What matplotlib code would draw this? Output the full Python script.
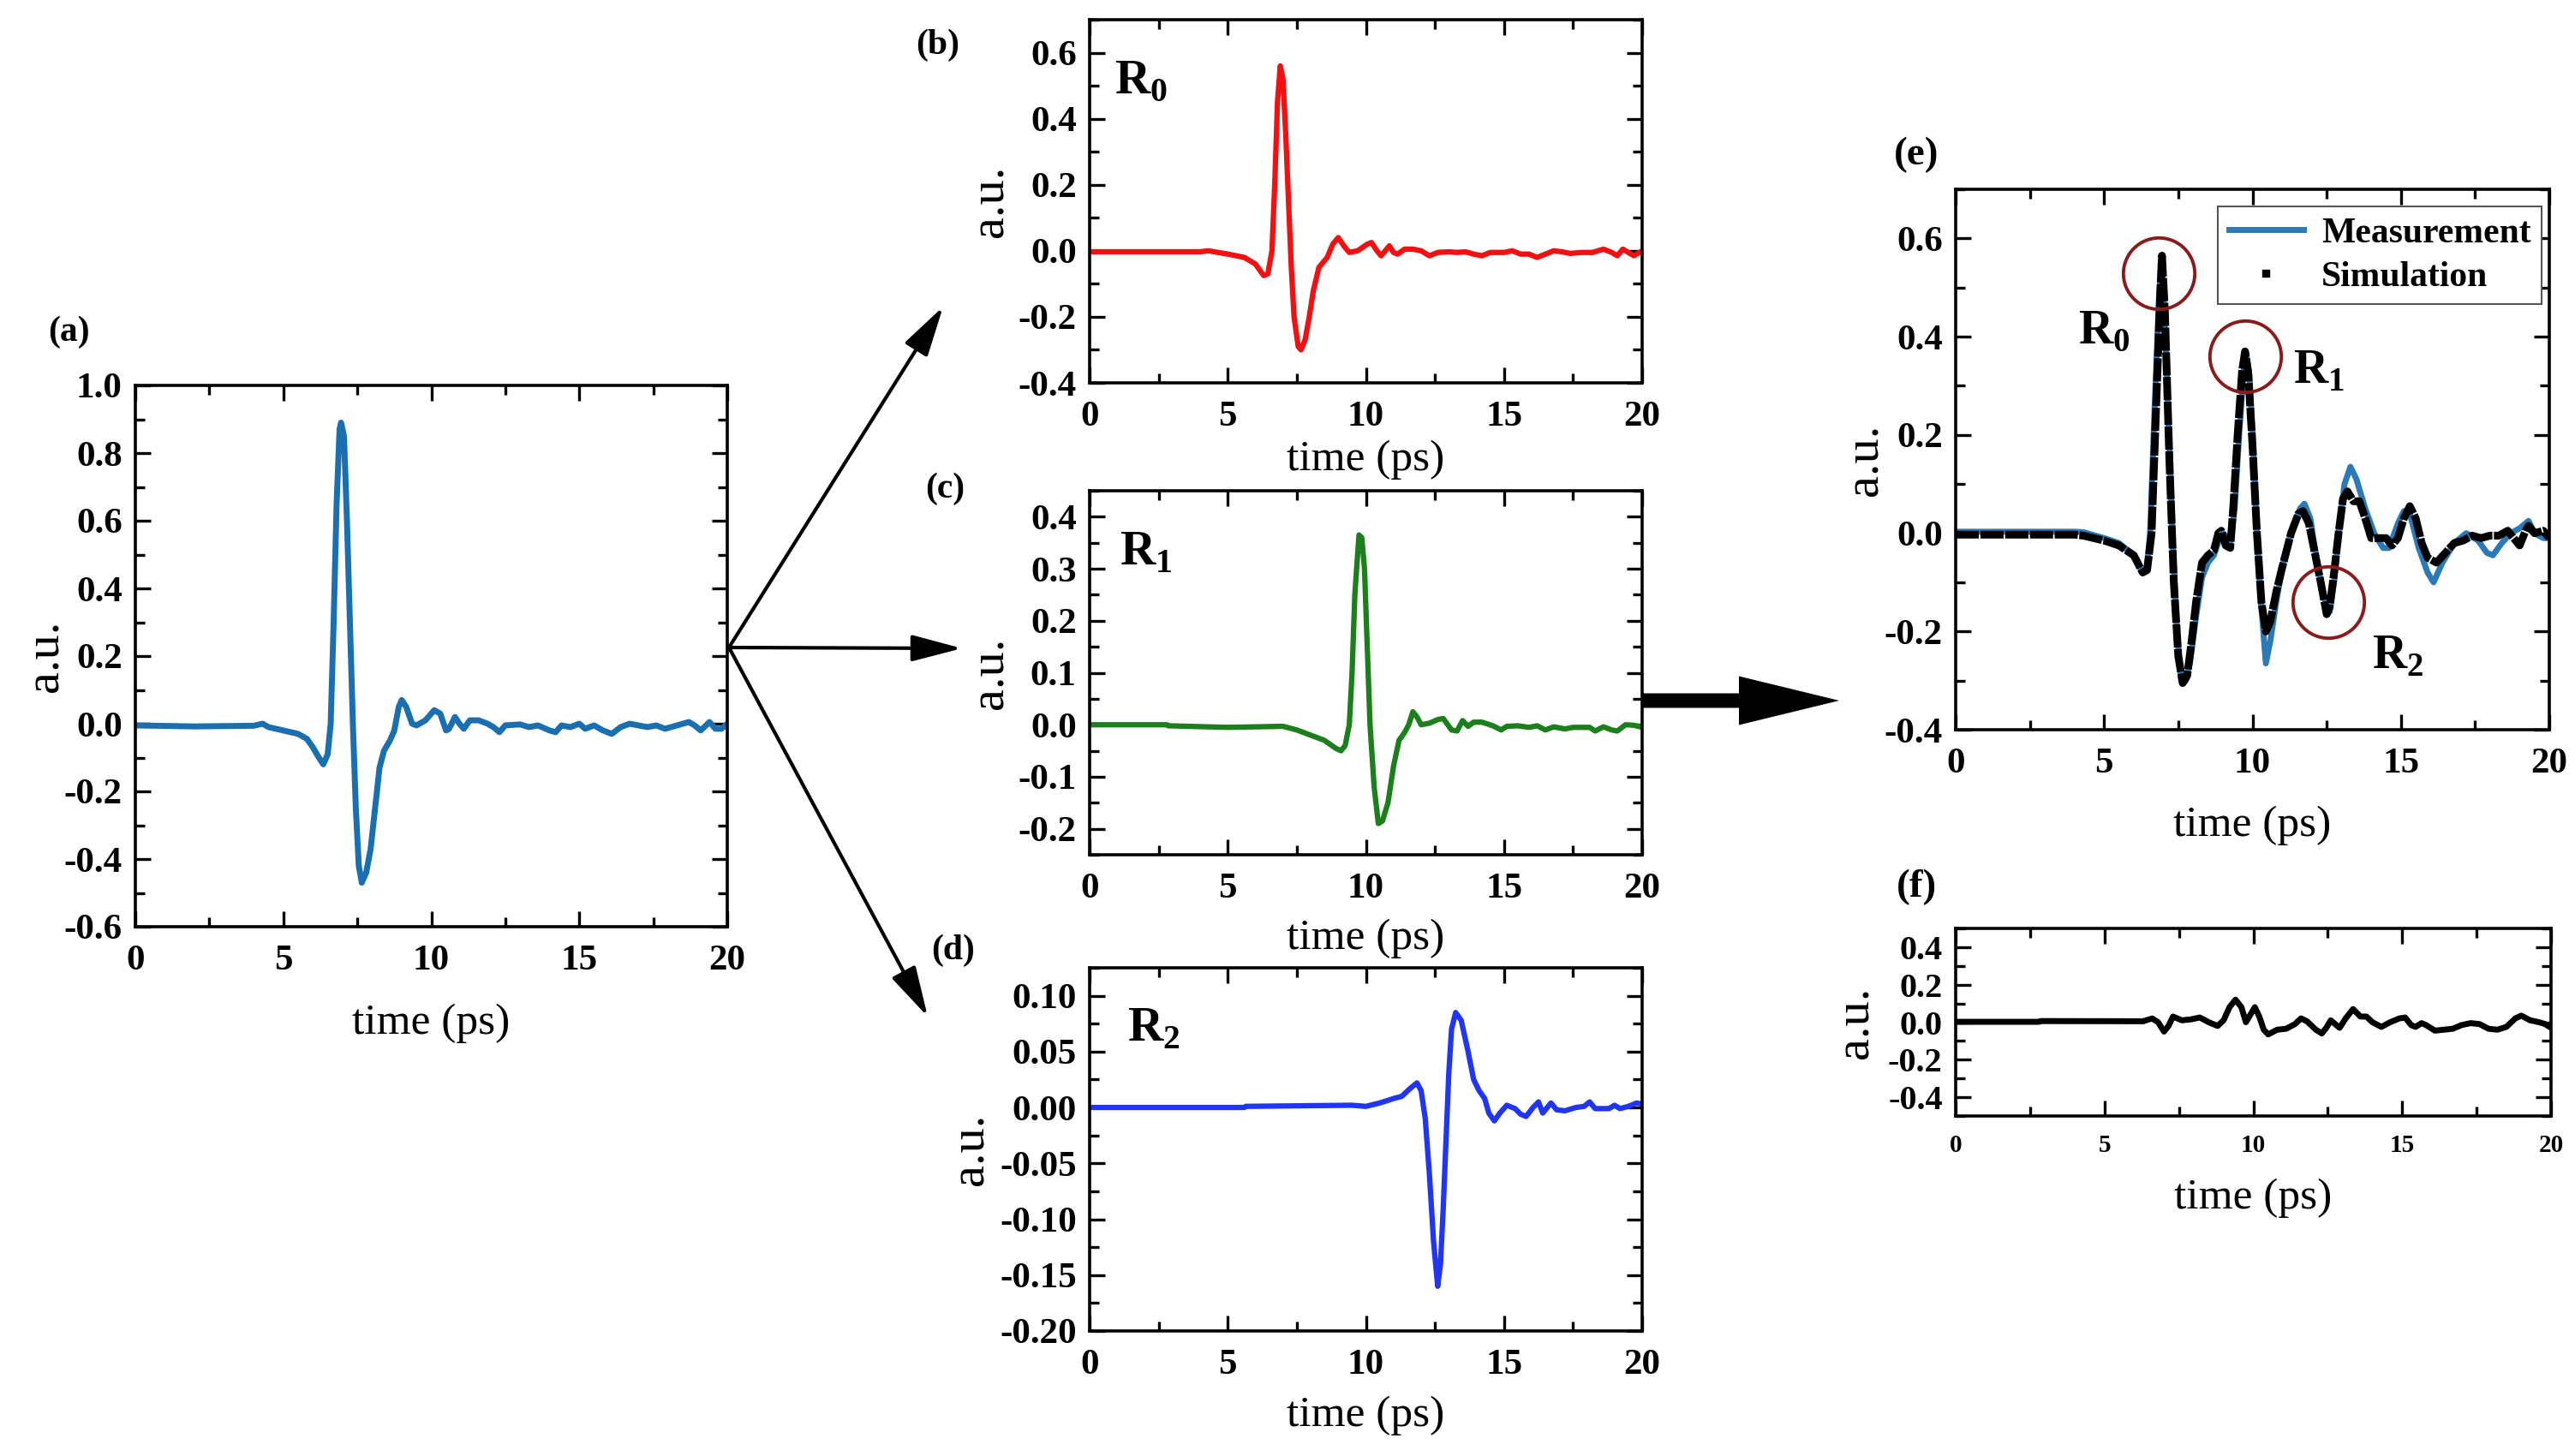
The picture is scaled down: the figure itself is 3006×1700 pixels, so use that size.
import matplotlib
matplotlib.use("Agg")
import matplotlib.pyplot as plt
from matplotlib.ticker import MultipleLocator, AutoMinorLocator, FormatStrFormatter
from matplotlib.patches import FancyArrowPatch, FancyArrow
from matplotlib.lines import Line2D

plt.rcParams["font.family"] = "Liberation Serif"
plt.rcParams["font.weight"] = "bold"
plt.rcParams["axes.unicode_minus"] = False
plt.rcParams["mathtext.fontset"] = "custom"
plt.rcParams["mathtext.rm"] = "Liberation Serif"
plt.rcParams["mathtext.bf"] = "Liberation Serif:bold"

# (a) measured signal
t_a = [0, 2, 4.0, 4.3, 4.5, 5.0, 5.5, 5.8, 6.0, 6.2, 6.35, 6.5, 6.6, 6.7, 6.8, 6.9, 6.95,
       7.05, 7.15, 7.25, 7.35, 7.45, 7.55, 7.65, 7.8, 7.95, 8.1, 8.25, 8.4, 8.6, 8.75,
       8.9, 9.0, 9.15, 9.35, 9.5, 9.8, 10.1, 10.3, 10.5, 10.6, 10.8, 10.95, 11.1, 11.3,
       11.6, 11.9, 12.1, 12.3, 12.5, 13.0, 13.3, 13.6, 14.0, 14.2, 14.4, 14.7, 15.0,
       15.2, 15.5, 15.8, 16.1, 16.4, 16.7, 17.0, 17.3, 17.6, 17.9, 18.3, 18.7, 18.9,
       19.1, 19.4, 19.6, 19.8, 20]
y_a = [-0.005, -0.008, -0.006, 0.0, -0.01, -0.02, -0.03, -0.045, -0.07, -0.1, -0.12, -0.09,
       0.0, 0.3, 0.65, 0.87, 0.89, 0.85, 0.6, 0.3, 0.0, -0.25, -0.42, -0.47, -0.44, -0.37,
       -0.25, -0.13, -0.08, -0.05, -0.02, 0.05, 0.07, 0.05, 0.0, -0.005, 0.01, 0.04, 0.03,
       -0.02, -0.015, 0.02, 0.0, -0.015, 0.01, 0.01, 0.0, -0.01, -0.025, -0.005, -0.002,
       -0.01, -0.005, -0.02, -0.025, -0.005, -0.01, 0.0, -0.015, -0.005, -0.02, -0.03,
       -0.01, 0.0, -0.005, -0.01, -0.005, -0.015, -0.005, 0.005, -0.005, -0.02, 0.005,
       -0.015, -0.015, 0.0]

# (b) R0
t_r0 = [0, 4.0, 4.3, 5.0, 5.6, 6.0, 6.3, 6.45, 6.6, 6.7, 6.8, 6.9, 7.0, 7.1, 7.2, 7.3, 7.4,
        7.55, 7.65, 7.8, 7.95, 8.1, 8.3, 8.6, 8.8, 9.0, 9.2, 9.4, 9.7, 10.05, 10.2, 10.4,
        10.55, 10.7, 10.85, 11.0, 11.15, 11.4, 11.7, 12.0, 12.3, 12.6, 13.0, 13.3, 13.6,
        13.9, 14.2, 14.5, 15.0, 15.3, 15.6, 15.9, 16.2, 16.5, 16.8, 17.1, 17.4, 17.8, 18.2,
        18.6, 18.9, 19.1, 19.3, 19.5, 19.7, 20]
y_r0 = [-0.003, -0.003, 0.0, -0.01, -0.02, -0.04, -0.075, -0.07, 0.0, 0.2, 0.45, 0.56, 0.52,
        0.35, 0.15, -0.05, -0.2, -0.29, -0.3, -0.27, -0.2, -0.12, -0.05, -0.02, 0.02, 0.04,
        0.015, -0.005, 0.0, 0.02, 0.025, 0.0, -0.015, 0.0, 0.015, -0.005, -0.01, 0.005,
        0.005, 0.0, -0.015, -0.005, -0.003, -0.005, -0.003, -0.01, -0.015, -0.005, -0.005,
        0.0, -0.01, -0.01, -0.02, -0.01, 0.0, -0.003, -0.008, -0.005, -0.005, 0.005,
        -0.005, -0.015, 0.005, -0.005, -0.015, 0.0]

# (c) R1
t_r1 = [0, 2.8, 2.85, 5.0, 7.0, 7.5, 8.0, 8.5, 8.9, 9.1, 9.25, 9.4, 9.5, 9.6, 9.75, 9.85,
        9.95, 10.05, 10.15, 10.3, 10.45, 10.6, 10.8, 11.0, 11.2, 11.4, 11.55, 11.7, 11.85,
        12.0, 12.3, 12.6, 12.8, 13.1, 13.3, 13.5, 13.7, 13.9, 14.2, 14.6, 14.9, 15.1, 15.5,
        15.9, 16.2, 16.5, 16.8, 17.2, 17.5, 17.8, 18.1, 18.3, 18.6, 18.9, 19.1, 19.4, 19.7, 20]
y_r1 = [0.0, 0.0, -0.002, -0.005, -0.003, -0.01, -0.02, -0.03, -0.045, -0.05, -0.04, 0.0,
        0.1, 0.25, 0.365, 0.36, 0.3, 0.15, 0.0, -0.12, -0.19, -0.185, -0.15, -0.08, -0.03,
        -0.015, 0.0, 0.025, 0.015, 0.0, 0.003, 0.01, 0.012, -0.01, -0.012, 0.008, -0.003,
        0.005, 0.005, -0.002, -0.01, -0.003, -0.002, -0.005, -0.002, -0.01, -0.004, -0.008,
        -0.005, -0.005, -0.005, -0.012, -0.004, -0.01, -0.012, 0.0, -0.001, -0.005]

# (d) R2
t_r2 = [0, 5.6, 5.65, 9.5, 10.0, 10.5, 11.0, 11.3, 11.6, 11.85, 12.0, 12.15, 12.3, 12.45,
        12.6, 12.7, 12.8, 12.9, 13.0, 13.1, 13.25, 13.45, 13.7, 13.9, 14.1, 14.3, 14.45,
        14.65, 14.85, 15.1, 15.4, 15.6, 15.8, 16.05, 16.25, 16.4, 16.7, 16.9, 17.2, 17.6,
        17.9, 18.1, 18.3, 18.8, 19.0, 19.2, 19.5, 19.8, 20]
y_r2 = [0.0, 0.0, 0.001, 0.002, 0.001, 0.004, 0.008, 0.01, 0.017, 0.022, 0.015, -0.01, -0.06,
        -0.12, -0.16, -0.14, -0.09, -0.03, 0.03, 0.07, 0.085, 0.078, 0.05, 0.025, 0.015,
        0.008, -0.005, -0.012, -0.005, 0.002, -0.001, -0.006, -0.008, 0.0, 0.005, -0.005,
        0.004, -0.002, -0.003, 0.0, 0.001, 0.005, -0.001, -0.001, 0.002, -0.001, 0.001,
        0.004, 0.003]

# (e) measurement vs simulation
t_meas = [0, 4.0, 4.3, 5.0, 5.5, 6.0, 6.3, 6.45, 6.55, 6.7, 6.85, 6.95, 7.1, 7.3, 7.45, 7.6,
          7.75, 7.9, 8.1, 8.3, 8.5, 8.7, 8.9, 9.0, 9.1, 9.25, 9.4, 9.55, 9.7, 9.8, 9.9, 10.0,
          10.15, 10.3, 10.45, 10.6, 10.8, 11.0, 11.3, 11.6, 11.75, 11.95, 12.1, 12.3, 12.5,
          12.6, 12.75, 12.9, 13.1, 13.3, 13.5, 13.8, 14.1, 14.4, 14.6, 14.9, 15.1, 15.3,
          15.6, 15.9, 16.1, 16.4, 16.8, 17.2, 17.6, 17.9, 18.1, 18.4, 18.7, 19.0, 19.3,
          19.5, 19.8, 20]
y_meas = [0.003, 0.003, 0.002, -0.01, -0.02, -0.045, -0.08, -0.07, 0.0, 0.25, 0.48, 0.55,
          0.35, 0.0, -0.2, -0.3, -0.3, -0.26, -0.17, -0.09, -0.06, -0.045, -0.01, 0.0,
          -0.005, -0.02, 0.05, 0.2, 0.33, 0.36, 0.32, 0.2, 0.0, -0.15, -0.265, -0.22, -0.14,
          -0.07, 0.0, 0.05, 0.06, 0.03, -0.03, -0.1, -0.15, -0.16, -0.1, 0.0, 0.1, 0.135,
          0.11, 0.05, 0.0, -0.03, -0.03, 0.02, 0.045, 0.04, -0.03, -0.08, -0.1, -0.06, -0.02,
          0.0, -0.015, -0.04, -0.045, -0.02, 0.0, 0.01, 0.025, 0.0, -0.01, -0.01]

t_sim = [0, 4.0, 4.3, 5.0, 5.5, 6.0, 6.3, 6.45, 6.6, 6.75, 6.9, 6.95, 7.05, 7.2, 7.35, 7.5,
         7.65, 7.8, 7.95, 8.1, 8.3, 8.5, 8.7, 8.85, 8.95, 9.1, 9.25, 9.35, 9.5, 9.65, 9.75,
         9.85, 10.0, 10.15, 10.3, 10.45, 10.6, 10.8, 11.0, 11.3, 11.55, 11.7, 11.9, 12.1,
         12.3, 12.5, 12.6, 12.75, 12.9, 13.05, 13.2, 13.4, 13.6, 13.8, 14.0, 14.3, 14.5,
         14.7, 14.9, 15.1, 15.3, 15.5, 15.7, 15.9, 16.2, 16.5, 16.8, 17.1, 17.4, 17.7,
         18.0, 18.3, 18.6, 18.8, 19.0, 19.2, 19.3, 19.5, 19.8, 20]
y_sim = [-0.003, -0.003, -0.005, -0.015, -0.025, -0.045, -0.08, -0.075, 0.0, 0.25, 0.5, 0.565,
         0.45, 0.15, -0.1, -0.25, -0.305, -0.29, -0.22, -0.14, -0.06, -0.045, -0.035, 0.0,
         0.005, -0.025, -0.03, 0.05, 0.2, 0.33, 0.37, 0.33, 0.18, 0.0, -0.14, -0.2, -0.18,
         -0.12, -0.07, 0.0, 0.04, 0.045, 0.02, -0.04, -0.1, -0.165, -0.15, -0.08, 0.0, 0.07,
         0.085, 0.065, 0.065, 0.03, -0.01, -0.01, -0.01, -0.025, -0.01, 0.03, 0.055, 0.03,
         -0.02, -0.05, -0.06, -0.04, -0.02, -0.015, -0.005, -0.01, -0.005, -0.005, 0.005,
         -0.01, -0.025, 0.005, 0.015, 0.0, 0.005, -0.01]

# (f) residual
t_res = [0, 2.8, 2.85, 6.3, 6.6, 6.8, 7.0, 7.15, 7.3, 7.6, 7.9, 8.2, 8.5, 8.8, 9.0, 9.2, 9.4,
         9.6, 9.75, 9.9, 10.05, 10.2, 10.35, 10.5, 10.8, 11.1, 11.4, 11.6, 11.8, 12.1, 12.3,
         12.45, 12.6, 12.75, 12.9, 13.1, 13.35, 13.6, 13.8, 14.0, 14.3, 14.6, 14.9, 15.1,
         15.3, 15.45, 15.65, 15.8, 16.1, 16.4, 16.7, 17.0, 17.3, 17.6, 17.9, 18.2, 18.5,
         18.8, 19.0, 19.3, 19.6, 19.8, 20]
y_res = [0.002, 0.002, 0.006, 0.005, 0.02, 0.0, -0.05, -0.02, 0.03, 0.01, 0.015, 0.025, 0.0,
         -0.02, 0.01, 0.08, 0.12, 0.08, 0.0, 0.04, 0.08, 0.03, -0.04, -0.065, -0.04, -0.035,
         -0.01, 0.02, 0.005, -0.04, -0.06, -0.03, 0.01, -0.01, -0.03, 0.02, 0.07, 0.03,
         0.03, 0.0, -0.025, 0.0, 0.02, 0.025, -0.015, -0.025, -0.005, -0.015, -0.045, -0.04,
         -0.035, -0.015, -0.005, -0.01, -0.035, -0.04, -0.025, 0.02, 0.035, 0.01, 0.0,
         -0.01, -0.03]

# highlighted peaks in (e)
circ_t = [6.85, 9.75, 12.55]
circ_y = [0.53, 0.36, -0.14]

W, H = 3006, 1700
fig = plt.figure(figsize=(W / 100, H / 100), dpi=100)


def add_ax(x0, y0, x1, y1):
    return fig.add_axes([x0 / W, 1 - y1 / H, (x1 - x0) / W, (y1 - y0) / H])


def style(ax, ylim, ystep, yfmt, xfs=31, yfs=31, xlab_y=-0.15, ylab_x=-0.12):
    ax.set_xlim(0, 20)
    ax.set_ylim(*ylim)
    ax.xaxis.set_major_locator(MultipleLocator(5))
    ax.xaxis.set_minor_locator(AutoMinorLocator(2))
    ax.yaxis.set_major_locator(MultipleLocator(ystep))
    ax.yaxis.set_minor_locator(AutoMinorLocator(2))
    ax.xaxis.set_major_formatter(FormatStrFormatter("%d"))
    ax.yaxis.set_major_formatter(FormatStrFormatter(yfmt))
    ax.tick_params(which="both", direction="in", top=True, right=True, width=2.4)
    ax.tick_params(which="major", length=13)
    ax.tick_params(which="minor", length=8)
    ax.tick_params(axis="x", labelsize=xfs, pad=15)
    ax.tick_params(axis="y", labelsize=yfs, pad=11)
    for s in ax.spines.values():
        s.set_linewidth(2.6)
    ax.set_xlabel("time (ps)", fontsize=37, fontweight="normal")
    ax.set_ylabel("a.u.", fontsize=42, fontweight="normal")
    ax.xaxis.set_label_coords(0.5, xlab_y)
    ax.yaxis.set_label_coords(ylab_x, 0.5)


ax_a = add_ax(158, 450, 849, 1082)
ax_a.plot(t_a, y_a, color="#1a6fb0", lw=5)
style(ax_a, (-0.6, 1.0), 0.2, "%.1f", xlab_y=-0.141, ylab_x=-0.113)

ax_b = add_ax(1272, 23, 1917, 447)
ax_b.plot(t_r0, y_r0, color="#f41010", lw=4.5)
style(ax_b, (-0.4, 0.7), 0.2, "%.1f", xlab_y=-0.158, ylab_x=-0.138)
ax_b.text(0.045, 0.83, r"$\mathbf{R}_\mathbf{0}$", transform=ax_b.transAxes,
          fontsize=41, va="center")

ax_c = add_ax(1272, 573, 1917, 998)
ax_c.plot(t_r1, y_r1, color="#1b7f1b", lw=4.5)
style(ax_c, (-0.25, 0.45), 0.1, "%.1f", xlab_y=-0.176, ylab_x=-0.138)
ax_c.text(0.055, 0.83, r"$\mathbf{R}_\mathbf{1}$", transform=ax_c.transAxes,
          fontsize=41, va="center")

ax_d = add_ax(1272, 1130, 1917, 1554)
ax_d.plot(t_r2, y_r2, color="#2036f4", lw=4.5)
style(ax_d, (-0.2, 0.125), 0.05, "%.2f", xlab_y=-0.179, ylab_x=-0.174)
ax_d.text(0.068, 0.83, r"$\mathbf{R}_\mathbf{2}$", transform=ax_d.transAxes,
          fontsize=41, va="center")

ax_e = add_ax(2283, 221, 2976, 852)
ax_e.plot(t_meas, y_meas, color="#2a7ab8", lw=5)
ax_e.plot(t_sim, y_sim, color="black", lw=6.5, ls=(0, (3, 0.2)))
ax_e.plot(circ_t, circ_y, "o", ms=60, mfc="none", mec="#8b1a1a", mew=2.8)
style(ax_e, (-0.4, 0.7), 0.2, "%.1f", xlab_y=-0.141, ylab_x=-0.114)
ax_e.text(4.99, 0.41, r"$\mathbf{R}_\mathbf{0}$", fontsize=40, ha="center", va="center")
ax_e.text(12.24, 0.33, r"$\mathbf{R}_\mathbf{1}$", fontsize=40, ha="center", va="center")
ax_e.text(14.9, -0.25, r"$\mathbf{R}_\mathbf{2}$", fontsize=40, ha="center", va="center")
handles = [Line2D([], [], color="#2a7ab8", lw=5),
           Line2D([], [], color="black", marker="s", ls="none", ms=6)]
leg = ax_e.legend(handles, ["Measurement", "Simulation"], loc="upper right",
                  bbox_to_anchor=(0.987, 0.968), borderaxespad=0,
                  prop={"weight": "bold", "size": 30}, handlelength=2.1,
                  handletextpad=0.5, labelspacing=0.3, borderpad=0.3,
                  fancybox=False, framealpha=1, edgecolor="#555555")
leg.get_frame().set_linewidth(1.5)

ax_f = add_ax(2283, 1084, 2978, 1303)
ax_f.plot(t_res, y_res, color="black", lw=5)
style(ax_f, (-0.5, 0.5), 0.2, "%.1f", xfs=21, yfs=29, xlab_y=-0.329, ylab_x=-0.13)

# panel labels
for lab, (px, py), fs in [("(a)", (80, 388), 30), ("(b)", (1095, 53), 30),
                          ("(c)", (1103, 571), 30), ("(d)", (1113, 1110), 30),
                          ("(e)", (2237, 181), 34), ("(f)", (2237, 1036), 34)]:
    fig.text(px / W, 1 - py / H, lab, fontsize=fs, ha="center", va="center")


def fpos(px, py):
    return (px / W, 1 - py / H)


# arrows from (a) to (b)-(d)
origin = (851, 756)
for tip in [(1101, 358), (1123, 757), (1083, 1187)]:
    arr = FancyArrowPatch(fpos(*origin), fpos(*tip), transform=fig.transFigure,
                          arrowstyle="-|>,head_length=3.6,head_width=0.95",
                          mutation_scale=10, lw=3, color="black",
                          shrinkA=0, shrinkB=0)
    fig.add_artist(arr)

# big arrow towards (e)
big = FancyArrow(1917 / W, 1 - 818 / H, (2147 - 1917) / W, 0, width=17 / H,
                 head_width=57 / H, head_length=117 / W, length_includes_head=True,
                 transform=fig.transFigure, color="black", lw=0)
fig.add_artist(big)

fig.savefig("out.png", dpi=100)
